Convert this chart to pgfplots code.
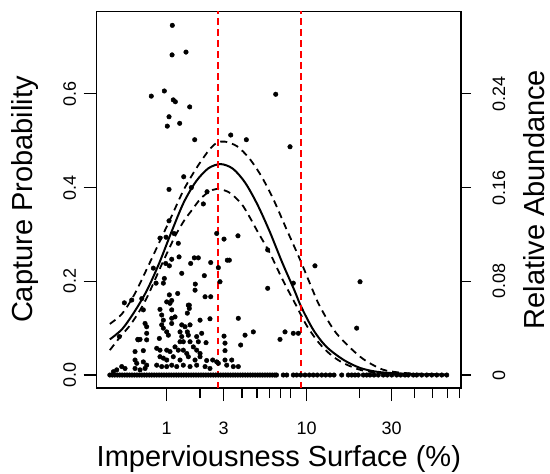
\documentclass[border=0pt]{standalone}
\usepackage{fontspec}
\setmainfont{Liberation Sans}
\usepackage{pgfplots}
\pgfplotsset{compat=1.18}
\begin{document}
\begin{tikzpicture}
\begin{axis}[
  scale only axis, width=364.3bp, height=376.7bp,
  xmin=-0.16, xmax=4.278, ymin=-0.0277, ymax=0.776,
  axis line style={line width=1.3bp},
  every tick/.style={line width=1.3bp, black},
  tick align=outside, tick pos=left,
  major tick length=13bp, minor tick length=10bp,
  xtick={0.6931,1.3863,2.3979,3.4340}, xticklabels={1,3,10,30},
  extra x ticks={1.0986,1.6094,1.7918,1.9459,2.0794,2.1972,3.0445,3.7136,3.9318,4.1109,4.2627},
  extra x tick labels={},
  extra x tick style={major tick length=10bp},
  ytick={0,0.2,0.4,0.6}, yticklabels={0.0,0.2,0.4,0.6},
  /pgf/number format/assume math mode=true,
  tick label style={font=\fontsize{18bp}{18bp}\selectfont},
  xticklabel style={anchor=base, inner sep=0pt},
  xticklabel shift=33bp,
  yticklabel style={rotate=90, anchor=base, inner sep=0pt},
  yticklabel shift=7.7bp,
  label style={font=\fontsize{29bp}{29bp}\selectfont},
  xlabel={Imperviousness Surface (\%)},
  xlabel style={at={(axis description cs:0.5,-0.2089)}, anchor=base, inner sep=0pt},
  ylabel={Capture Probability},
  ylabel style={at={(axis description cs:-0.1749,0.5)}, anchor=base, inner sep=0pt, rotate=0},
  clip=false,
]
\coordinate (BL) at (rel axis cs:0,0);
\coordinate (TR) at (rel axis cs:1,1);
% zero captures
\addplot[only marks, mark=*, mark size=2.3bp, black] table {
0 0
0.03 0
0.06 0
0.09 0
0.12 0
0.15 0
0.18 0
0.21 0
0.24 0
0.27 0
0.30 0
0.33 0
0.36 0
0.39 0
0.42 0
0.45 0
0.48 0
0.51 0
0.54 0
0.57 0
0.60 0
0.63 0
0.66 0
0.69 0
0.72 0
0.75 0
0.78 0
0.81 0
0.84 0
0.87 0
0.90 0
0.93 0
0.96 0
0.99 0
1.02 0
1.05 0
1.08 0
1.11 0
1.14 0
1.17 0
1.20 0
1.23 0
1.26 0
1.29 0
1.32 0
1.35 0
1.38 0
1.41 0
1.44 0
1.47 0
1.50 0
1.53 0
1.56 0
1.59 0
1.62 0
1.65 0
1.68 0
1.71 0
1.74 0
1.77 0
1.80 0
1.83 0
1.86 0
1.89 0
1.92 0
1.95 0
1.98 0
2.01 0
2.03 0
2.113 0
2.155 0
2.235 0
2.276 0
2.325 0
2.378 0
2.430 0
2.479 0
2.528 0
2.581 0
2.630 0
2.682 0
2.731 0
2.825 0
2.905 0
2.946 0
2.987 0
3.027 0
3.088 0
3.129 0
3.169 0
3.218 0
3.270 0
3.331 0
3.380 0
3.434 0
3.494 0
3.543 0
3.596 0
3.636 0
3.697 0
3.738 0
3.799 0
3.860 0
3.921 0
3.982 0
4.043 0
4.104 0
};
% positive captures
\addplot[only marks, mark=*, mark size=2.3bp, black] table {
0.761 0.746
0.758 0.683
0.928 0.689
0.505 0.595
0.664 0.606
0.773 0.587
0.798 0.583
0.973 0.572
0.721 0.551
0.700 0.531
0.851 0.537
1.034 0.502
1.473 0.512
1.663 0.502
2.021 0.599
2.195 0.487
0.900 0.423
0.721 0.396
0.993 0.400
1.184 0.391
0.721 0.329
1.139 0.365
0.611 0.292
0.685 0.294
0.782 0.302
0.834 0.281
0.843 0.252
0.754 0.247
0.681 0.238
0.725 0.233
0.985 0.238
1.029 0.250
1.078 0.250
0.876 0.217
0.530 0.228
0.563 0.196
0.652 0.196
0.664 0.206
1.041 0.194
1.038 0.181
0.725 0.171
0.827 0.174
0.389 0.163
0.177 0.154
0.693 0.156
0.754 0.159
0.968 0.149
0.968 0.142
0.611 0.140
1.302 0.302
1.391 0.290
1.561 0.297
1.229 0.240
1.322 0.229
1.431 0.245
1.456 0.245
1.923 0.267
1.151 0.212
1.342 0.199
1.923 0.185
2.235 0.196
1.160 0.167
1.229 0.167
2.499 0.233
3.048 0.199
3.007 0.100
0.116 0.082
0.267 0.160
0.347 0.075
0.449 0.075
0.408 0.139
0.429 0.110
0.449 0.103
0.632 0.128
0.652 0.117
0.733 0.153
0.754 0.139
0.956 0.149
0.944 0.132
0.754 0.121
0.794 0.124
0.876 0.107
0.916 0.103
0.977 0.107
0.632 0.107
0.652 0.100
0.754 0.110
0.693 0.092
0.713 0.085
0.855 0.092
0.876 0.082
0.944 0.092
0.956 0.085
1.058 0.082
0.449 0.089
0.340 0.076
0.368 0.076
0.603 0.078
0.855 0.071
0.895 0.071
0.977 0.071
1.078 0.071
0.307 0.050
0.408 0.052
0.571 0.057
0.611 0.053
0.693 0.053
0.733 0.050
0.794 0.060
0.834 0.053
0.895 0.053
0.937 0.046
1.017 0.060
1.058 0.053
0.611 0.039
0.652 0.036
0.693 0.032
0.773 0.039
0.855 0.032
0.956 0.039
1.038 0.032
0.307 0.032
0.328 0.025
0.408 0.028
0.449 0.021
0.571 0.021
0.632 0.018
0.693 0.018
0.754 0.021
0.815 0.018
0.895 0.021
0.977 0.018
1.058 0.021
0.145 0.018
0.185 0.014
0.084 0.011
0.043 0.007
0.307 0.014
0.368 0.011
0.429 0.014
1.099 0.117
1.220 0.120
1.565 0.121
1.119 0.089
1.391 0.083
1.647 0.085
1.748 0.092
2.073 0.076
2.134 0.092
2.235 0.089
2.296 0.089
1.172 0.069
1.403 0.068
1.594 0.064
1.099 0.046
1.099 0.039
1.403 0.052
1.180 0.031
1.253 0.032
1.302 0.028
1.403 0.032
1.485 0.032
1.322 0.025
1.424 0.021
1.504 0.018
1.565 0.018
1.160 0.018
1.220 0.014
};
% fitted curve
\addplot[black, line width=2bp, smooth] table {
0.00 0.076
0.15 0.098
0.30 0.135
0.45 0.180
0.60 0.238
0.75 0.305
0.90 0.368
1.05 0.413
1.20 0.441
1.35 0.450
1.50 0.440
1.65 0.410
1.80 0.363
1.95 0.305
2.10 0.240
2.25 0.180
2.33 0.146
2.48 0.096
2.64 0.060
2.85 0.032
3.05 0.015
3.25 0.007
3.45 0.004
3.70 0.002
4.10 0.001
};
\addplot[black, line width=1.8bp, smooth, dash pattern=on 7bp off 5bp] table {
0.00 0.109
0.15 0.131
0.30 0.172
0.45 0.226
0.60 0.282
0.75 0.338
0.90 0.395
1.05 0.440
1.20 0.478
1.30 0.495
1.40 0.498
1.55 0.488
1.70 0.462
1.85 0.423
2.00 0.372
2.15 0.312
2.32 0.245
2.45 0.190
2.56 0.146
2.76 0.089
3.05 0.039
3.29 0.014
3.45 0.007
3.70 0.003
4.10 0.001
};
\addplot[black, line width=1.8bp, smooth, dash pattern=on 7bp off 5bp] table {
0.00 0.053
0.12 0.080
0.25 0.107
0.37 0.139
0.47 0.172
0.63 0.235
0.71 0.265
0.80 0.298
0.90 0.328
1.00 0.352
1.10 0.375
1.20 0.390
1.30 0.397
1.45 0.390
1.60 0.366
1.70 0.338
1.80 0.306
1.95 0.260
2.10 0.205
2.25 0.155
2.40 0.105
2.55 0.068
2.70 0.042
2.85 0.025
3.05 0.011
3.25 0.005
3.50 0.002
4.10 0.000
};
\addplot[red, line width=1.8bp, dash pattern=on 6.5bp off 4.5bp] coordinates {(1.314,-0.0277) (1.314,0.776)};
\addplot[red, line width=1.8bp, dash pattern=on 6.5bp off 4.5bp] coordinates {(2.325,-0.0277) (2.325,0.776)};
\end{axis}
\begin{axis}[
  scale only axis, width=364.3bp, height=376.7bp,
  xmin=-0.16, xmax=4.278, ymin=-0.01108, ymax=0.3104,
  hide x axis, axis y line*=right,
  axis line style={line width=1.3bp},
  every tick/.style={line width=1.3bp, black},
  tick align=outside, major tick length=10bp,
  ytick={0,0.08,0.16,0.24}, yticklabels={0,0.08,0.16,0.24},
  /pgf/number format/assume math mode=true,
  tick label style={font=\fontsize{18bp}{18bp}\selectfont},
  yticklabel style={rotate=90, anchor=base, inner sep=0pt},
  yticklabel shift=34bp,
  label style={font=\fontsize{29bp}{29bp}\selectfont},
  ylabel={Relative Abundance},
  ylabel style={at={(axis description cs:1.2280,0.5)}, anchor=base, inner sep=0pt, rotate=0},
]
\addplot[draw=none] coordinates {(0,0)};
\end{axis}
\pgfresetboundingbox
\path ([shift={(-96.7bp,-86bp)}]BL) rectangle ([shift={(89bp,11.3bp)}]TR);
\end{tikzpicture}
\end{document}
